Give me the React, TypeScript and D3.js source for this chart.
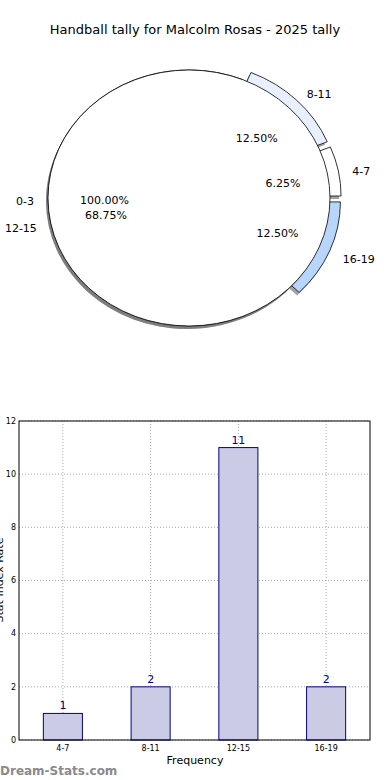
import React from 'react';
import * as d3 from 'd3';

const title = 'Handball tally for Malcolm Rosas - 2025 tally';
const pieCategories = ['0-3', '4-7', '8-11', '12-15', '16-19'];
const pieValues = [0, 1, 2, 11, 2];
const pctLabels = ['100.00%', '6.25%', '12.50%', '68.75%', '12.50%'];
const pieColors = ['#ffffff', '#ffffff', '#e8f0fe', '#ffffff', '#b8d5fb'];
const explode = [0, 0.08, 0.08, 0, 0.08];

const barCategories = ['4-7', '8-11', '12-15', '16-19'];
const barValues = [1, 2, 11, 2];
const yTicks = [0, 2, 4, 6, 8, 10, 12];

const font = 'DejaVu Sans, sans-serif';

const App = () => {
  // pie (matplotlib style: counter-clockwise from 3 o'clock, elliptical)
  const cx = 189, cy = 198, rx = 141, ry = 128;
  const total = d3.sum(pieValues);
  let acc = 0;
  const slices = pieValues.map((v, i) => {
    const a1 = (acc / total) * 2 * Math.PI;
    acc += v;
    const a2 = (acc / total) * 2 * Math.PI;
    const mid = v === 0 ? Math.PI : (a1 + a2) / 2;
    return { i, v, a1, a2, mid };
  });
  const arc = d3.arc<any>().innerRadius(0).outerRadius(1);
  const wedgePath = (s: any) =>
    arc({ startAngle: Math.PI / 2 - s.a2, endAngle: Math.PI / 2 - s.a1 }) as string;
  const pos = (s: any, r: number) => {
    const rr = r + explode[s.i];
    return [cx + rr * rx * Math.cos(s.mid), cy - rr * ry * Math.sin(s.mid)];
  };
  const offset = (s: any) => {
    const e = explode[s.i];
    return [cx + e * rx * Math.cos(s.mid), cy - e * ry * Math.sin(s.mid)];
  };

  // bars
  const m = { left: 19, right: 370, top: 421, bottom: 740 };
  const x = d3.scaleBand<string>().domain(barCategories).range([m.left, m.right]).paddingInner(0.555).paddingOuter(0.2775);
  const y = d3.scaleLinear().domain([0, 12]).range([m.bottom, m.top]);

  return (
    <svg width={390} height={780} style={{ position: 'absolute', left: 0, top: 0 }} fontFamily={font}>
      <rect width={390} height={780} fill="#fff" />
      <text x={195} y={34} textAnchor="middle" fontSize={13}>{title}</text>

      {/* wedge shadows */}
      {slices.filter(s => s.v > 0).map(s => {
        const [ox, oy] = offset(s);
        return (
          <path key={'sh' + s.i} d={wedgePath(s)} transform={`translate(${ox - 2},${oy + 3}) scale(${rx},${ry})`}
            fill="#666" fillOpacity={0.6} />
        );
      })}
      {slices.filter(s => s.v > 0).map(s => {
        const [ox, oy] = offset(s);
        return (
          <path key={'w' + s.i} d={wedgePath(s)} transform={`translate(${ox},${oy}) scale(${rx},${ry})`}
            fill={pieColors[s.i]} stroke="#000" strokeWidth={0.8} vectorEffect="non-scaling-stroke" />
        );
      })}
      <ellipse cx={cx - 2} cy={cy + 3} rx={rx} ry={ry} fill="#666" fillOpacity={0.6} />
      <ellipse cx={cx} cy={cy} rx={rx} ry={ry} fill="#fff" stroke="#000" strokeWidth={0.8} />
      {slices.map(s => {
        const [lx, ly] = pos(s, 1.1);
        const [px, py] = pos(s, 0.6);
        const anchor = Math.cos(s.mid) < 0 ? 'end' : 'start';
        return (
          <g key={'l' + s.i} fontSize={11}>
            <text x={lx} y={ly + 3} dy="0.35em" textAnchor={anchor}>{pieCategories[s.i]}</text>
            <text x={px} y={py + 2} dy="0.35em" textAnchor="middle">{pctLabels[s.i]}</text>
          </g>
        );
      })}

      {/* bar chart grid */}
      {yTicks.map(t => (
        <line key={'gy' + t} x1={m.left} x2={m.right} y1={y(t)} y2={y(t)} stroke="#aaa" strokeDasharray="1,2" />
      ))}
      {barCategories.map(c => (
        <line key={'gx' + c} x1={x(c)! + x.bandwidth() / 2} x2={x(c)! + x.bandwidth() / 2} y1={m.top} y2={m.bottom}
          stroke="#aaa" strokeDasharray="1,2" />
      ))}
      {barCategories.map((c, i) => (
        <g key={'b' + c}>
          <rect x={x(c)} y={y(barValues[i])} width={x.bandwidth()} height={y(0) - y(barValues[i])}
            fill="#cbcbe6" stroke="#000080" strokeWidth={1} />
          <text x={x(c)! + x.bandwidth() / 2} y={y(barValues[i]) - 4} textAnchor="middle" fontSize={11} fill="#000080">
            {barValues[i]}
          </text>
        </g>
      ))}
      <rect x={m.left} y={m.top} width={m.right - m.left} height={m.bottom - m.top} fill="none" stroke="#000" strokeWidth={1} />
      {yTicks.map(t => (
        <text key={'ty' + t} x={m.left - 3} y={y(t)} dy="0.35em" textAnchor="end" fontSize={8}>{t}</text>
      ))}
      {barCategories.map(c => (
        <text key={'tx' + c} x={x(c)! + x.bandwidth() / 2} y={m.bottom + 11} textAnchor="middle" fontSize={8}>{c}</text>
      ))}
      <text x={195} y={764} textAnchor="middle" fontSize={11}>Frequency</text>
      <text transform={`translate(3,580) rotate(-90)`} textAnchor="middle" fontSize={11}>Stat Index Rate</text>
      <text x={0} y={775} fontSize={12} fill="#8a8a8a" fontWeight={600}>Dream-Stats.com</text>
    </svg>
  );
};

export default App;
